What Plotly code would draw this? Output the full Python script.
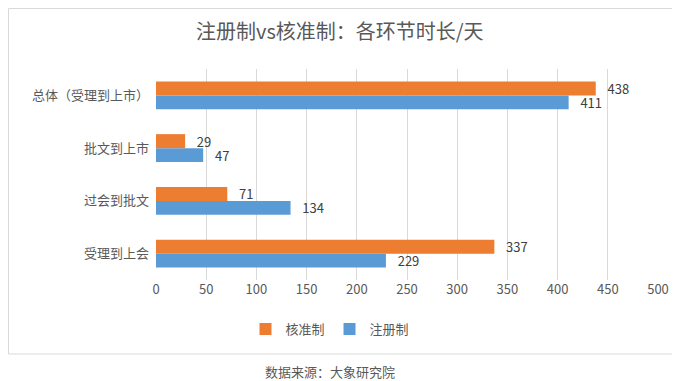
import plotly.graph_objects as go

categories = ["总体（受理到上市）", "批文到上市", "过会到批文", "受理到上会"]
hezhun = [438, 29, 71, 337]
zhuce = [411, 47, 134, 229]
x_ticks = [0, 50, 100, 150, 200, 250, 300, 350, 400, 450, 500]

FONT = "Noto Sans CJK SC"
GREY = "#595959"
O = 8  # page offset of the figure inside the browser body

W, H = 680, 381
L, R, T, B = 156 - O, 658 - O, 69 - O, 280 - O
pw, ph = R - L, B - T

def px(xp):
    return (xp - O - L) / pw

def py(yp):
    return (B - (yp - O)) / ph

label_font = dict(color="#404040", size=13, family=FONT)

fig = go.Figure()
fig.add_trace(go.Bar(
    y=categories, x=zhuce, name="注册制", orientation="h",
    marker=dict(color="#5B9BD5", line=dict(width=0)), text=zhuce,
    texttemplate="   %{x}", textposition="outside",
    textfont=label_font, constraintext="none", cliponaxis=False,
))
fig.add_trace(go.Bar(
    y=categories, x=hezhun, name="核准制", orientation="h",
    marker=dict(color="#ED7D31", line=dict(width=0)), text=hezhun,
    texttemplate="   %{x}", textposition="outside",
    textfont=label_font, constraintext="none", cliponaxis=False,
))

fig.update_layout(
    width=W, height=H,
    margin=dict(l=L, r=W - R, t=T, b=H - B, pad=0, autoexpand=False),
    paper_bgcolor="white", plot_bgcolor="white",
    barmode="group", bargap=0.47, bargroupgap=0,
    font=dict(family=FONT, color=GREY, size=13),
    showlegend=True,
    legend=dict(orientation="h", traceorder="reversed", x=px(330), xanchor="center",
                y=py(329), yanchor="middle", font=dict(size=13, color=GREY),
                itemwidth=30, bgcolor="rgba(0,0,0,0)"),
    xaxis=dict(range=[0, 500], tickvals=x_ticks, showgrid=True, gridcolor="#D9D9D9",
               gridwidth=1, zeroline=False, showline=False, ticks="",
               tickfont=dict(size=13, color=GREY, family=FONT), fixedrange=True,
               automargin=False),
    yaxis=dict(categoryorder="array", categoryarray=categories[::-1], showgrid=False,
               zeroline=False, showline=False, ticks="", ticklabelstandoff=6,
               tickfont=dict(size=13, color=GREY, family=FONT), automargin=False),
    shapes=[
        dict(type="rect", xref="paper", yref="paper",
             x0=px(O + 0.5), x1=px(677), y0=py(354), y1=py(O + 0.5),
             line=dict(color="#D9D9D9", width=1), fillcolor="rgba(0,0,0,0)", layer="below"),
    ],
    annotations=[
        dict(text="注册制vs核准制：各环节时长/天", xref="paper", yref="paper",
             x=px(340), y=py(31), xanchor="center", yanchor="middle", showarrow=False,
             font=dict(size=20, color=GREY, family=FONT)),
        dict(text="数据来源：大象研究院", xref="paper", yref="paper",
             x=px(330), y=py(371), xanchor="center", yanchor="middle", showarrow=False,
             font=dict(size=13, color=GREY, family=FONT)),
    ],
)

fig.write_html("out.html")
